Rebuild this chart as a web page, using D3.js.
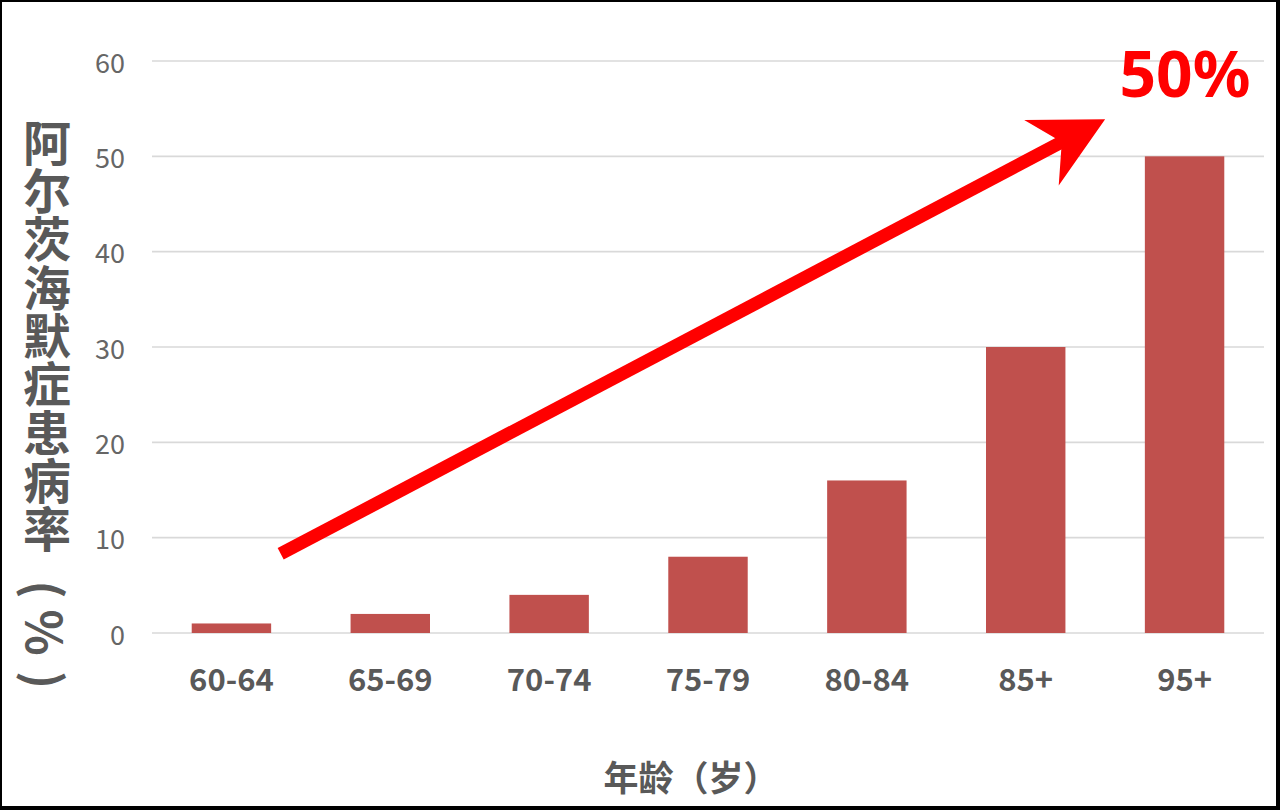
<!DOCTYPE html>
<html>
<head>
<meta charset="utf-8">
<script src="https://cdn.jsdelivr.net/npm/d3@7/dist/d3.min.js"></script>
<style>
  html, body { margin: 0; padding: 0; background: #000; }
  svg { display: block; }
</style>
</head>
<body>
<svg id="chart" width="1280" height="810"></svg>
<script>
const categories = ["60-64", "65-69", "70-74", "75-79", "80-84", "85+", "95+"];
const values = [1, 2, 4, 8, 16, 30, 50];
const yTicks = [0, 10, 20, 30, 40, 50, 60];
const yTitleMain = "阿尔茨海默症患病率";
const yTitleUnit = ["(", "%", ")"];
const xTitle = "年龄（岁）";
const calloutText = "50%";
// trend arrow in data space: position in category steps from first centre, value in %
const arrowStart = { index: 0.31, value: 8.3 };
const arrowEnd = { index: 5.5, value: 53.9 };

const svg = d3.select("#chart");
const W = 1280, H = 810;
const gray = "#595959";
const cjk = "'Noto Sans CJK SC', 'Noto Sans', sans-serif";

svg.append("rect").attr("x", 2).attr("y", 2).attr("width", W - 6).attr("height", H - 6).attr("fill", "#fff");

const x = d3.scaleBand().domain(categories).range([152, 1264]).paddingInner(0.5).paddingOuter(0.25);
const y = d3.scaleLinear().domain([0, 60]).range([633, 61]);

// gridlines
svg.append("g").selectAll("line").data(yTicks).join("line")
  .attr("x1", 152).attr("x2", 1264)
  .attr("y1", d => y(d)).attr("y2", d => y(d))
  .attr("stroke", "#d9d9d9").attr("stroke-width", 1.6);

// y tick labels
svg.append("g").selectAll("text").data(yTicks).join("text")
  .attr("x", 125).attr("y", d => y(d))
  .attr("text-anchor", "end").attr("dominant-baseline", "central")
  .attr("font-family", cjk).attr("font-size", 27).attr("fill", "#666")
  .text(d => d);

// bars
svg.append("g").selectAll("rect").data(values).join("rect")
  .attr("x", (d, i) => x(categories[i]))
  .attr("width", x.bandwidth())
  .attr("y", d => y(d))
  .attr("height", d => y(0) - y(d))
  .attr("fill", "#c0504d");

// x labels
svg.append("g").selectAll("text").data(categories).join("text")
  .attr("x", d => x(d) + x.bandwidth() / 2).attr("y", 677)
  .attr("text-anchor", "middle").attr("dominant-baseline", "central")
  .attr("font-family", cjk).attr("font-size", 31).attr("font-weight", "bold").attr("fill", gray)
  .text(d => d);

// y title (vertical writing)
svg.append("text")
  .attr("x", 47).attr("y", 118.5)
  .style("writing-mode", "vertical-rl")
  .style("letter-spacing", "0.3px")
  .attr("text-anchor", "start")
  .attr("font-family", cjk).attr("font-size", 48).attr("font-weight", "bold").attr("fill", gray)
  .text(yTitleMain);
// unit "(%)" rotated, each glyph centred
const unitCenters = [589.5, 632.5, 680];
yTitleUnit.forEach((c, i) => {
  svg.append("text")
    .attr("transform", `translate(47,${unitCenters[i]}) rotate(90)`)
    .attr("text-anchor", "middle").attr("dominant-baseline", "central")
    .attr("font-family", cjk).attr("font-size", 48).attr("font-weight", "bold").attr("fill", gray)
    .text(c);
});

// x title
svg.append("text")
  .attr("x", 691).attr("y", 775)
  .attr("text-anchor", "middle").attr("dominant-baseline", "central")
  .attr("font-family", cjk).attr("font-size", 35).attr("font-weight", "bold").attr("fill", gray)
  .text(xTitle);

// trend arrow
const step = x.step();
const c0 = x(categories[0]) + x.bandwidth() / 2;
const px = p => c0 + p.index * step;
const sx = px(arrowStart), sy = y(arrowStart.value);
const tx = px(arrowEnd), ty = y(arrowEnd.value);
const len = Math.hypot(tx - sx, ty - sy);
const ux = (tx - sx) / len, uy = (ty - sy) / len;
const nx = -uy, ny = ux;
const headLen = 72, headHalf = 37, notch = 49;
svg.append("line")
  .attr("x1", sx).attr("y1", sy)
  .attr("x2", tx - (notch - 1) * ux).attr("y2", ty - (notch - 1) * uy)
  .attr("stroke", "#ff0000").attr("stroke-width", 13);
const head = [
  [tx, ty],
  [tx - headLen * ux + headHalf * nx, ty - headLen * uy + headHalf * ny],
  [tx - notch * ux, ty - notch * uy],
  [tx - headLen * ux - headHalf * nx, ty - headLen * uy - headHalf * ny]
];
svg.append("path").attr("d", d3.line()(head) + "Z").attr("fill", "#ff0000");

// callout
svg.append("text")
  .attr("x", 1185).attr("y", 97)
  .attr("text-anchor", "middle")
  .attr("font-family", "'Noto Sans', sans-serif").attr("font-size", 64).attr("font-weight", "bold").attr("fill", "#ff0000")
  .text(calloutText);
</script>
</body>
</html>
